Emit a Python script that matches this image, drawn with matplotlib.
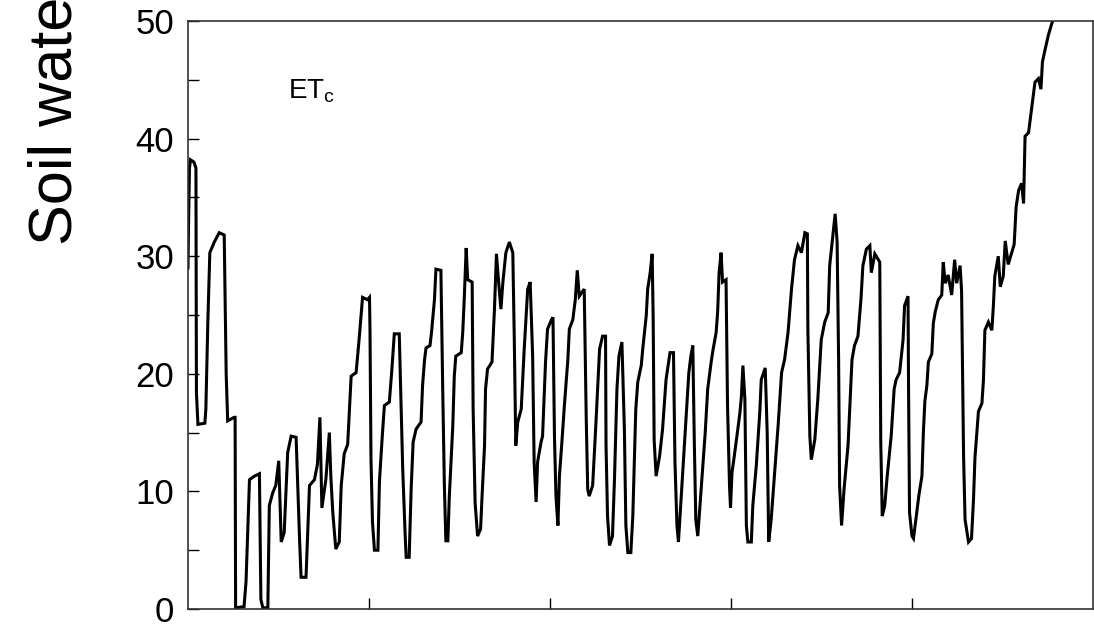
import numpy as np
from matplotlib import pyplot as plt

plt.rcParams['font.family'] = ['Liberation Sans', 'DejaVu Sans']
plt.rcParams['mathtext.fontset'] = 'custom'
plt.rcParams['mathtext.rm'] = 'Liberation Sans'

# day of the run and soil water deficit (mm)
day = np.array([
    0, 1, 3, 5, 12, 16, 17, 20, 34, 36, 40, 44, 53, 63, 73,
    77, 80, 93, 95, 96, 113, 117, 120, 124, 134, 144, 147, 151, 161,
    164, 171, 177, 183, 188, 194, 201, 208, 218, 225, 228, 238,
    245, 255, 261, 266, 270, 278, 285, 288, 292, 298, 305,
    309, 315, 322, 329, 339, 345, 352, 362, 366, 367, 369, 372, 376, 383,
    386, 391, 396, 406, 411, 416, 426, 430, 433, 438, 440, 446,
    450, 454, 460, 470, 473, 477, 480, 488, 491, 497, 500, 510,
    514, 517, 520, 524, 527, 534, 537, 540, 551, 554, 557, 561, 564, 573,
    575, 579, 584, 590, 593, 598, 600, 604, 613, 618, 622, 626, 631, 635,
    641, 648, 655, 658, 661, 665, 672, 678, 685, 690,
    695, 698, 702, 705, 712, 715, 721, 725, 733, 736,
    739, 742, 746, 749, 754, 759, 766, 769, 776, 781, 785, 789, 799,
    803, 806, 809, 816, 822, 826, 830, 836, 842,
    843, 846, 850, 856, 860, 865, 869, 875,
    880, 883, 887, 893, 897, 900, 903, 907, 914, 917, 924, 927, 932, 936, 938,
    940, 944, 951, 957, 964, 972, 979,
    982, 986, 989, 994, 998, 1004, 1010, 1014, 1018,
    1021, 1024, 1028, 1033, 1038, 1043, 1048, 1055, 1059, 1065, 1068, 1071,
    1075, 1078, 1085, 1088, 1092, 1094, 1097, 1100, 1106, 1113, 1116, 1119, 1123,
    1126, 1129, 1136, 1139, 1146, 1153, 1156, 1164,
    1168, 1171, 1176, 1183, 1190, 1197, 1203, 1210, 1217, 1223, 1230, 1237, 1244, 1249,
    1250, 1254, 1257, 1264, 1270, 1277, 1284, 1291, 1294, 1301, 1305, 1309,
    1312, 1314, 1318, 1323, 1331, 1334, 1339, 1344, 1351, 1357, 1361, 1368, 1375,
    1378, 1385, 1395,
    1397, 1400, 1405, 1410, 1418, 1424, 1428, 1435, 1442, 1445, 1452, 1453,
    1455, 1460, 1463, 1470, 1474, 1480, 1483, 1486, 1490, 1493, 1500, 1503, 1507,
    1513, 1520, 1523, 1527, 1533, 1540, 1546, 1550, 1557, 1560,
    1564, 1567, 1574, 1580, 1584, 1587, 1594, 1601, 1604, 1607, 1614, 1621, 1624,
    1627, 1634, 1638, 1644, 1648, 1654, 1661, 1666, 1670, 1675, 1681, 1685,
    1688, 1695, 1698, 1701, 1708, 1715, 1720, 1723, 1728, 1735, 1742, 1748, 1760,
])
deficit = np.array([
    29.0, 32.5, 37.5, 38.2, 38.0, 37.5, 18.4, 15.7, 15.8, 17.0, 24.4, 30.3, 31.2, 32.0, 31.8,
    20.0, 16.0, 16.3, 16.3, 0.1, 0.2, 2.3, 6.0, 11.0, 11.3, 11.5, 0.8, 0.1, 0.1,
    8.8, 9.9, 10.5, 12.6, 5.7, 6.5, 13.3, 14.7, 14.6, 5.9, 2.7, 2.7,
    10.5, 11.0, 12.3, 16.3, 8.6, 11.0, 15.0, 11.3, 8.2, 5.1, 5.7,
    10.5, 13.2, 14.0, 19.8, 20.1, 22.9, 26.5, 26.3, 26.5, 23.8, 12.7, 7.4, 5.0, 5.0,
    10.8, 14.2, 17.3, 17.6, 20.3, 23.4, 23.4, 17.0, 11.9, 6.2, 4.4, 4.4,
    10.2, 14.2, 15.3, 15.9, 19.0, 21.2, 22.2, 22.4, 23.5, 26.3, 28.9, 28.8,
    17.8, 10.5, 5.8, 5.8, 9.6, 15.6, 19.8, 21.5, 21.8, 23.5, 26.3, 30.7, 28.0, 27.8,
    17.0, 9.0, 6.2, 6.8, 9.6, 13.9, 18.7, 20.4, 21.0, 25.5, 30.2, 28.0, 25.5, 27.8,
    30.3, 31.2, 30.3, 22.9, 13.9, 15.9, 17.0, 22.1, 27.2, 27.8,
    21.5, 12.5, 9.1, 12.5, 14.2, 14.7, 21.0, 23.8, 24.6, 24.8,
    14.7, 9.6, 7.1, 11.3, 14.2, 17.3, 21.2, 23.8, 24.6, 26.3, 28.8, 26.6, 27.2,
    16.4, 10.2, 9.6, 10.5, 15.3, 18.7, 22.1, 23.2, 23.2,
    13.9, 7.9, 5.4, 6.2, 11.0, 18.7, 21.5, 22.7,
    15.3, 7.1, 4.8, 4.8, 7.9, 12.5, 17.0, 19.3, 20.7, 22.1, 24.9, 27.2, 28.6, 30.2, 24.9,
    14.4, 11.3, 13.0, 15.3, 19.5, 21.8, 21.8,
    12.5, 7.1, 5.7, 9.1, 11.9, 15.9, 20.1, 21.5, 22.4,
    14.2, 7.6, 6.2, 9.1, 11.9, 15.0, 18.7, 21.0, 22.1, 23.5, 25.2, 28.6,
    30.3, 27.8, 28.0, 17.3, 10.5, 8.6, 11.6, 12.5, 14.4, 16.7, 18.1, 20.7, 17.8,
    7.1, 5.7, 5.7, 8.8, 12.2, 16.7, 19.5, 20.5,
    15.0, 5.7, 7.6, 11.6, 15.6, 20.1, 21.2, 23.5, 27.2, 29.7, 30.9, 30.3, 32.0, 31.9,
    23.8, 14.7, 12.7, 14.4, 17.8, 22.9, 24.4, 25.2, 29.2, 32.0, 33.6, 31.2,
    21.2, 10.5, 7.1, 10.2, 13.9, 16.7, 21.2, 22.4, 23.2, 26.3, 29.2, 30.6, 30.9,
    28.6, 30.2, 29.5,
    14.2, 7.9, 8.8, 11.3, 14.7, 18.7, 19.5, 20.1, 22.9, 25.8, 26.6, 19.0,
    8.2, 6.2, 6.0, 8.4, 9.7, 11.3, 15.1, 17.7, 19.0, 21.0, 21.7, 24.3, 25.3,
    26.3, 26.7, 29.5, 27.7, 28.4, 26.7, 29.7, 27.7, 29.2, 27.0,
    13.0, 7.6, 5.7, 6.0, 9.3, 12.9, 16.8, 17.5, 19.4, 23.7, 24.4, 23.7, 25.7,
    28.3, 30.0, 27.4, 28.3, 31.3, 29.3, 30.3, 31.0, 34.2, 35.6, 36.2, 34.5,
    40.2, 40.5, 41.5, 42.5, 44.8, 45.1, 44.2, 46.5, 47.5, 48.8, 49.8, 50.5, 52.5,
])

y_ticks = [0, 10, 20, 30, 40, 50]
x_ticks = [365, 730, 1095, 1460]

fig = plt.figure(figsize=(10.94, 6.27), dpi=100)
ax = fig.add_axes([188/1094, 18/627, 905/1094, 588/627])

ax.plot(day, deficit, color='black', lw=2.2, solid_joinstyle='miter')

ax.set_xlim(0, 1825)
ax.set_ylim(0, 50)
ax.set_yticks(y_ticks)
ax.set_yticks([5, 15, 25, 35, 45], minor=True)
ax.set_xticks(x_ticks)
ax.set_xticklabels([])
ax.tick_params(axis='both', which='both', direction='in', length=8, width=1,
               top=False, right=False)
ax.tick_params(axis='y', labelsize=25, pad=10)
for s in ax.spines.values():
    s.set_linewidth(1.2)
    s.set_color('#333333')

ax.text(0.11, 0.88, r'ET$_\mathregular{c}$', transform=ax.transAxes,
        fontsize=20, va='center', ha='left')

# y label is cut off at the top of the original figure
fig.text(56/1094, (627-245)/627, 'Soil water', rotation=90,
         fontsize=44, ha='center', va='bottom')

fig.savefig('out.png', dpi=100)
